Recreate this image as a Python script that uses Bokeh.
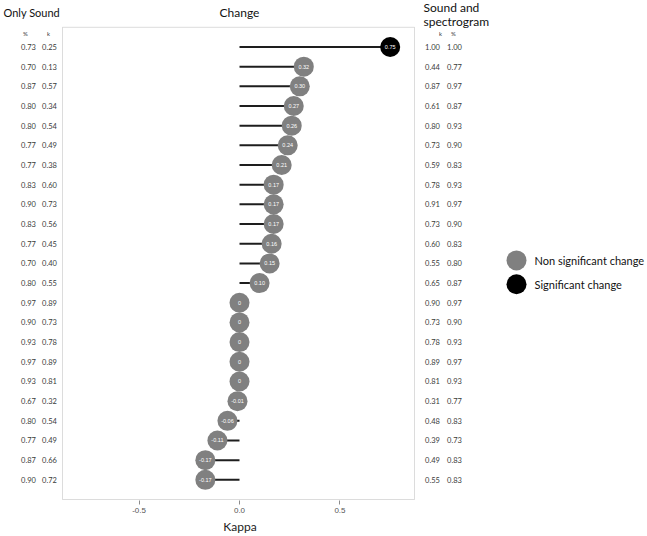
from bokeh.plotting import figure
from bokeh.layouts import row
from bokeh.models import (ColumnDataSource, LabelSet, Label, BoxAnnotation,
                          FixedTicker, Range1d, NumeralTickFormatter)
from bokeh.embed import file_html
from bokeh.resources import INLINE
from bokeh.core.properties import value

# ---- data (top row first) ----
change_kappa = [0.75, 0.32, 0.30, 0.27, 0.26, 0.24, 0.21, 0.17, 0.17, 0.17, 0.16, 0.15,
                0.10, 0, 0, 0, 0, 0, -0.01, -0.06, -0.11, -0.17, -0.17]
change_text = ["0.75", "0.32", "0.30", "0.27", "0.26", "0.24", "0.21", "0.17", "0.17", "0.17",
               "0.16", "0.15", "0.10", "0", "0", "0", "0", "0", "-0.01", "-0.06", "-0.11",
               "-0.17", "-0.17"]
significant = [True] + [False] * 22

only_sound_pct = ["0.73", "0.70", "0.87", "0.80", "0.80", "0.77", "0.77", "0.83", "0.90", "0.83",
                  "0.77", "0.70", "0.80", "0.97", "0.90", "0.93", "0.97", "0.93", "0.67", "0.80",
                  "0.77", "0.87", "0.90"]
only_sound_k = ["0.25", "0.13", "0.57", "0.34", "0.54", "0.49", "0.38", "0.60", "0.73", "0.56",
                "0.45", "0.40", "0.55", "0.89", "0.73", "0.78", "0.89", "0.81", "0.32", "0.54",
                "0.49", "0.66", "0.72"]
spectro_k = ["1.00", "0.44", "0.87", "0.61", "0.80", "0.73", "0.59", "0.78", "0.91", "0.73",
             "0.60", "0.55", "0.65", "0.90", "0.73", "0.78", "0.89", "0.81", "0.31", "0.48",
             "0.39", "0.49", "0.55"]
spectro_pct = ["1.00", "0.77", "0.97", "0.87", "0.93", "0.90", "0.83", "0.93", "0.97", "0.90",
               "0.83", "0.80", "0.87", "0.97", "0.90", "0.93", "0.97", "0.93", "0.77", "0.83",
               "0.73", "0.83", "0.83"]
legend_labels = ["Non significant change", "Significant change"]
legend_colors = ["#808080", "#000000"]
x_ticks = [-0.5, 0.0, 0.5]
kappa_lo, kappa_hi = -0.881, 0.871     # panel box limits

# ---- layout geometry (pixels) ----
H = 536
TOP = 27           # panel box top
BOX_BOT = 503      # panel box bottom
FRAME_BOT = 504    # plotting frame bottom (axis starts here)
LEFT_W = 61
MAIN_W = 357
RIGHT_W = 647 - LEFT_W - MAIN_W
BOX_L, BOX_R = 62, 414

n = len(change_kappa)
rows = [n - i for i in range(n)]
y0, y1 = 0, n + 1
ppu = (BOX_BOT - TOP) / (y1 - y0)
def ydat(py):  # page pixel row -> data y
    return y1 - (py - TOP) / ppu
yr = Range1d(ydat(FRAME_BOT), ydat(0))

pxu = (BOX_R - BOX_L) / (kappa_hi - kappa_lo)
xr = Range1d(kappa_lo - (BOX_L - LEFT_W) / pxu, kappa_hi + (LEFT_W + MAIN_W - BOX_R) / pxu)

src = ColumnDataSource(dict(
    y=rows, kappa=change_kappa, label=change_text,
    only_pct=only_sound_pct, only_k=only_sound_k,
    spec_k=spectro_k, spec_pct=spectro_pct, zero=[0] * n,
))
sig_idx = [i for i in range(n) if significant[i]]
non_idx = [i for i in range(n) if not significant[i]]
src_sig = ColumnDataSource(dict(y=[rows[i] for i in sig_idx], kappa=[change_kappa[i] for i in sig_idx]))
src_non = ColumnDataSource(dict(y=[rows[i] for i in non_idx], kappa=[change_kappa[i] for i in non_idx]))

TXT = "Lato"
GRAY = "#808080"
BOXC = "#8c8c8c"

# ---- main panel ----
p = figure(width=MAIN_W, height=H, output_backend="svg", toolbar_location=None,
           x_range=xr, y_range=yr, y_axis_location=None,
           min_border_left=0, min_border_right=0, min_border_top=0,
           min_border_bottom=H - FRAME_BOT)
p.xgrid.visible = False
p.ygrid.visible = False
p.outline_line_color = None
p.add_layout(BoxAnnotation(left=kappa_lo, right=kappa_hi, bottom=y0, top=y1,
                           fill_alpha=0, line_color=BOXC, line_width=1))

ax = p.xaxis[0]
ax.ticker = FixedTicker(ticks=x_ticks)
ax.formatter = NumeralTickFormatter(format="0.0")
ax.axis_line_color = None
ax.major_tick_line_color = BOXC
ax.major_tick_out = 4
ax.major_tick_in = 0
ax.minor_tick_line_color = None
ax.major_label_text_font = "Liberation Sans"
ax.major_label_text_font_size = "8px"
ax.major_label_text_color = "#555555"
ax.major_label_standoff = 3
ax.axis_label = "Kappa"
ax.axis_label_text_font = TXT
ax.axis_label_text_font_style = "normal"
ax.axis_label_text_font_size = "12px"
ax.axis_label_text_color = "#222222"
ax.axis_label_standoff = 3

p.segment(x0="zero", y0="y", x1="kappa", y1="y", source=src, line_width=2, line_color="#1e1e1e")
p.scatter(x="kappa", y="y", source=src_non, size=20, fill_color=GRAY, line_color=None)
p.scatter(x="kappa", y="y", source=src_sig, size=20, fill_color="#000000", line_color=None)
p.text(x="kappa", y="y", text="label", source=src, text_font=value("Liberation Sans"),
       text_font_size="5.5px", text_color="white", text_align="center", text_baseline="middle")
p.add_layout(Label(x=0, y=ydat(12.5), text="Change", text_font=TXT, text_font_size="12px",
                   text_color="#111111", text_align="center", text_baseline="middle"))

def side_fig(w, x_lo):
    f = figure(width=w, height=H, output_backend="svg", toolbar_location=None,
               x_range=Range1d(x_lo, x_lo + w), y_range=yr,
               x_axis_location=None, y_axis_location=None,
               min_border_left=0, min_border_right=0, min_border_top=0,
               min_border_bottom=H - FRAME_BOT)
    f.xgrid.visible = False
    f.ygrid.visible = False
    f.outline_line_color = None
    return f

left = side_fig(LEFT_W, 0)
right = side_fig(RIGHT_W, LEFT_W + MAIN_W)

def col(fig, field, xpos):
    fig.add_layout(LabelSet(x=xpos, y="y", text=field, source=src, text_font=value(TXT),
                            text_font_size="7.5px", text_color="#3a3a3a",
                            text_align="center", text_baseline="middle"))

def lab(fig, text, x, py, size="6px", align="center", color="#333333"):
    fig.add_layout(Label(x=x, y=ydat(py), text=text, text_font=TXT, text_font_size=size,
                         text_color=color, text_align=align, text_baseline="middle"))

col(left, "only_pct", 28)
col(left, "only_k", 49)
lab(left, "%", 25, 33)
lab(left, "k", 48, 33)
lab(left, "Only Sound", 3, 12.5, size="11px", align="left", color="#111111")

col(right, "spec_k", 432)
col(right, "spec_pct", 454)
lab(right, "k", 440, 33)
lab(right, "%", 453, 33)
lab(right, "Sound and", 423, 7, size="12px", align="left", color="#111111")
lab(right, "spectrogram", 423, 21, size="12px", align="left", color="#111111")

# legend (drawn as keys + labels in the right-hand panel)
leg_y = [ydat(262), ydat(286)]
leg_src = ColumnDataSource(dict(x=[516, 516], tx=[534, 534], y=leg_y,
                                color=legend_colors, label=legend_labels))
right.scatter(x="x", y="y", source=leg_src, size=20, fill_color="color", line_color=None)
right.text(x="tx", y="y", text="label", source=leg_src, text_font=value(TXT),
           text_font_size="11px", text_color="#111111", text_align="left",
           text_baseline="middle")

layout = row(left, p, right, spacing=0)
open("out.html", "w").write(file_html(layout, INLINE))
